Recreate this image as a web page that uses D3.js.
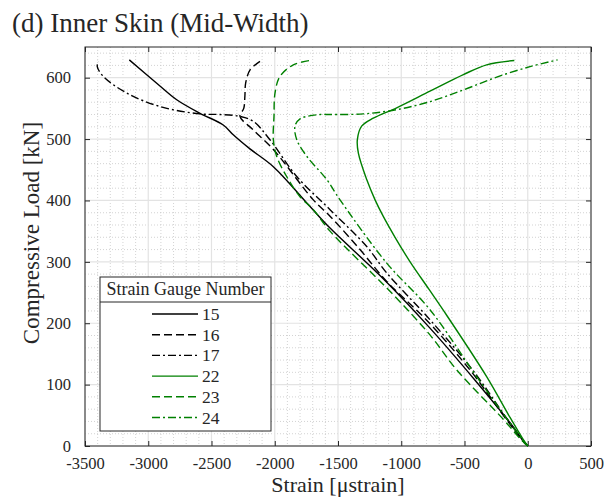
<!DOCTYPE html>
<html>
<head>
<meta charset="utf-8">
<script src="https://cdn.jsdelivr.net/npm/d3@7"></script>
<style>
  body { margin: 0; background: #fff; }
  text { font-family: "Liberation Serif", "Times New Roman", serif; fill: #262626; }
</style>
</head>
<body>
<div id="viz"></div>
<script>
// strain [microstrain], load [kN] pairs
const gauges = ["15", "16", "17", "22", "23", "24"];
const colors = ["#000", "#000", "#000", "#008000", "#008000", "#008000"];
const dashes = ["none", "8,4", "8,3,2,3", "none", "8,4", "8,3,2,3"];

const g15 = [[0,0],[-25,5],[-114,31],[-420,108],[-773,192],[-1160,276],[-1563,355],[-1721,390],
  [-2011,455],[-2196,484],[-2328,507],[-2407,523],[-2591,542],[-2775,564],[-2933,591],[-3150,629]];
const g16 = [[0,0],[-30,6],[-150,38],[-457,124],[-799,205],[-1115,268],[-1326,320],[-1561,374],
  [-1695,401],[-2011,483],[-2170,515],[-2275,537],[-2245,550],[-2236,570],[-2230,591],[-2194,613],[-2107,628]];
const g17 = [[0,0],[-30,7],[-150,40],[-440,125],[-770,205],[-1115,282],[-1273,325],[-1563,385],
  [-1826,439],[-2038,499],[-2170,529],[-2275,537],[-2431,540],[-2591,541],[-2907,553],[-3170,575],
  [-3355,602],[-3403,618],[-3395,627]];
const g22 = [[0,0],[-40,12],[-150,50],[-325,113],[-641,213],[-780,255],[-930,300],[-1049,340],[-1142,374],
  [-1207,401],[-1273,434],[-1339,477],[-1347,499],[-1313,521],[-1221,534],[-1036,551],[-773,578],
  [-509,605],[-325,621],[-106,628]];
const g23 = [[0,0],[-60,12],[-200,45],[-562,124],[-773,181],[-1089,252],[-1563,350],[-1695,385],
  [-1800,406],[-1906,439],[-1985,472],[-2011,499],[-2006,537],[-1998,575],[-1959,602],[-1853,621],[-1720,628]];
const g24 = [[0,0],[-40,10],[-150,40],[-404,113],[-773,222],[-1115,298],[-1484,401],[-1589,434],
  [-1747,472],[-1826,499],[-1840,521],[-1800,533],[-1642,540],[-1563,540],[-1300,541],[-1036,548],
  [-773,561],[-509,580],[-245,601],[18,618],[236,629]];
const series = [g15, g16, g17, g22, g23, g24];

const xTicks = [-3500, -3000, -2500, -2000, -1500, -1000, -500, 0, 500];
const yTicks = [0, 100, 200, 300, 400, 500, 600];

const W = 616, H = 504;
const L = 85, R = 591, T = 47, B = 446;

const x = d3.scaleLinear().domain([-3500, 500]).range([L, R]);
const y = d3.scaleLinear().domain([0, 650]).range([B, T]);

const svg = d3.select('#viz').append('svg')
  .attr('width', W)
  .attr('height', H);

// minor grid
svg.append('g').selectAll('line')
  .data(d3.range(-3500, 501, 100).filter(v => v % 500 !== 0))
  .enter().append('line')
  .attr('x1', d => x(d)).attr('x2', d => x(d))
  .attr('y1', T).attr('y2', B)
  .attr('stroke', '#c8c8c8').attr('stroke-width', 0.8).attr('stroke-dasharray', '1,2');
svg.append('g').selectAll('line')
  .data(d3.range(0, 651, 20).filter(v => v % 100 !== 0))
  .enter().append('line')
  .attr('x1', L).attr('x2', R)
  .attr('y1', d => y(d)).attr('y2', d => y(d))
  .attr('stroke', '#c8c8c8').attr('stroke-width', 0.8).attr('stroke-dasharray', '1,2');

// major grid
svg.append('g').selectAll('line')
  .data(xTicks)
  .enter().append('line')
  .attr('x1', d => x(d)).attr('x2', d => x(d))
  .attr('y1', T).attr('y2', B)
  .attr('stroke', '#e3e3e3').attr('stroke-width', 1.2);
svg.append('g').selectAll('line')
  .data(yTicks)
  .enter().append('line')
  .attr('x1', L).attr('x2', R)
  .attr('y1', d => y(d)).attr('y2', d => y(d))
  .attr('stroke', '#e3e3e3').attr('stroke-width', 1.2);

// axes with inward ticks
const ax = (gen, tx, ty) => svg.append('g')
  .attr('transform', `translate(${tx},${ty})`)
  .call(gen);

const xb = ax(d3.axisBottom(x).tickValues(xTicks).tickSizeInner(-5).tickSizeOuter(0).tickPadding(11), 0, B);
const xt = ax(d3.axisTop(x).tickValues(xTicks).tickSizeInner(-5).tickSizeOuter(0).tickFormat(''), 0, T);
const yl = ax(d3.axisLeft(y).tickValues(yTicks).tickSizeInner(-5).tickSizeOuter(0).tickPadding(14), L, 0);
const yr = ax(d3.axisRight(y).tickValues(yTicks).tickSizeInner(-5).tickSizeOuter(0).tickFormat(''), R, 0);

[xb, xt, yl, yr].forEach(a => {
  a.select('.domain').remove();
  a.selectAll('line').attr('stroke', '#262626');
  a.selectAll('text').style('font-family', '"Liberation Serif", serif').style('font-size', '16.5px').attr('fill', '#262626');
});
xb.selectAll('text').text(d => d < 0 ? '-' + Math.abs(d) : d);

svg.append('rect')
  .attr('x', L).attr('y', T).attr('width', R - L).attr('height', B - T)
  .attr('fill', 'none').attr('stroke', '#262626').attr('stroke-width', 1);

// curves
const line = d3.line().x(d => x(d[0])).y(d => y(d[1])).curve(d3.curveCatmullRom.alpha(0.5));
svg.append('g').selectAll('path')
  .data(series)
  .enter().append('path')
  .attr('d', line)
  .attr('fill', 'none')
  .attr('stroke', (d, i) => colors[i])
  .attr('stroke-width', 1.4)
  .attr('stroke-dasharray', (d, i) => dashes[i]);

// labels
svg.append('text')
  .attr('x', 12).attr('y', 32)
  .style('font-size', '27px')
  .text('(d) Inner Skin (Mid-Width)');

svg.append('text')
  .attr('x', (L + R) / 2).attr('y', 492)
  .attr('text-anchor', 'middle')
  .style('font-size', '22px')
  .text('Strain [\u03bcstrain]');

svg.append('text')
  .attr('transform', 'translate(39,233) rotate(-90)')
  .attr('text-anchor', 'middle')
  .style('font-size', '23px')
  .text('Compressive Load [kN]');

// legend
const lg = svg.append('g');
lg.append('rect')
  .attr('x', 100).attr('y', 277).attr('width', 171).attr('height', 154)
  .attr('fill', '#fff').attr('stroke', '#262626').attr('stroke-width', 1);
lg.append('line')
  .attr('x1', 100).attr('x2', 271).attr('y1', 302).attr('y2', 302)
  .attr('stroke', '#262626');
lg.append('text')
  .attr('x', 185.5).attr('y', 295)
  .attr('text-anchor', 'middle')
  .style('font-size', '18px')
  .text('Strain Gauge Number');

const item = lg.selectAll('g.item')
  .data(gauges)
  .enter().append('g')
  .attr('class', 'item')
  .attr('transform', (d, i) => `translate(0,${314 + i * 20.7})`);
item.append('line')
  .attr('x1', 152).attr('x2', 198).attr('y1', 0).attr('y2', 0)
  .attr('stroke', (d, i) => colors[i])
  .attr('stroke-width', 1.4)
  .attr('stroke-dasharray', (d, i) => dashes[i]);
item.append('text')
  .attr('x', 202).attr('y', 6)
  .style('font-size', '17.5px')
  .text(d => d);
</script>
</body>
</html>
